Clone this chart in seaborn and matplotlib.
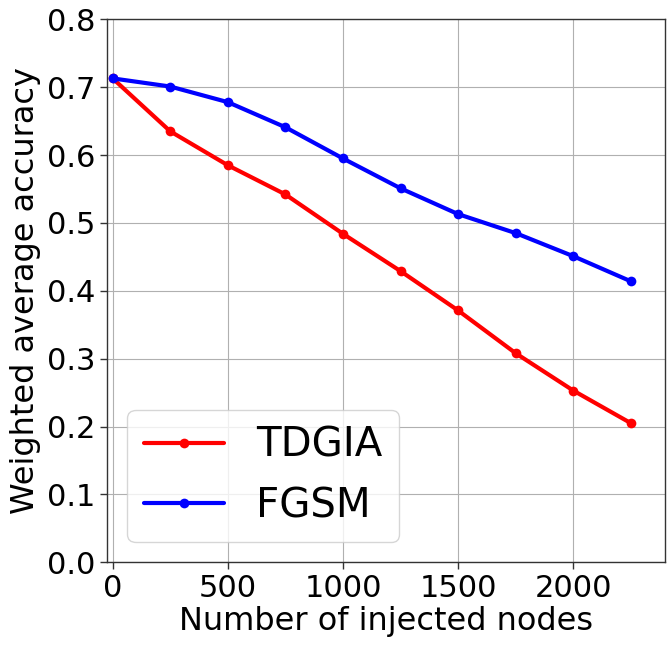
import matplotlib
matplotlib.use("Agg")
import matplotlib.pyplot as plt
import seaborn as sns
import pandas as pd
import numpy as np

nodes = [0, 250, 500, 750, 1000, 1250, 1500, 1750, 2000, 2250]
tdgia = [0.713, 0.635, 0.585, 0.542, 0.484, 0.429, 0.371, 0.308, 0.253, 0.205]
fgsm = [0.713, 0.701, 0.678, 0.641, 0.595, 0.551, 0.513, 0.485, 0.451, 0.414]
series_names = ["TDGIA", "FGSM"]
colors = ["red", "blue"]

df = pd.DataFrame({
    "nodes": nodes * 2,
    "acc": tdgia + fgsm,
    "method": [series_names[0]] * len(nodes) + [series_names[1]] * len(nodes),
})

sns.set_style("ticks")
plt.rcParams['font.family'] = ['DejaVu Sans']
plt.rcParams['text.color'] = 'black'
plt.rcParams['axes.labelcolor'] = 'black'
plt.rcParams['xtick.color'] = 'black'
plt.rcParams['ytick.color'] = 'black'

fig = plt.figure(figsize=(6.71, 6.49), dpi=100)
ax = fig.add_axes([0.160, 0.1336, 0.831, 0.8366])

sns.lineplot(data=df, x="nodes", y="acc", hue="method", hue_order=series_names,
             palette=colors, marker="o", markersize=7, markeredgewidth=0,
             linewidth=3, ax=ax)

ax.set_xlim(-23, 2398)
ax.set_ylim(0, 0.8)
ax.set_xticks([0, 500, 1000, 1500, 2000])
ax.set_yticks(np.arange(0, 0.81, 0.1))
ax.set_yticklabels([f"{v:.1f}" for v in np.arange(0, 0.81, 0.1)])
ax.tick_params(labelsize=22, length=5, width=1, color="#333333", labelcolor="black")
ax.grid(True, color="#b0b0b0", linewidth=0.8)
for s in ax.spines.values():
    s.set_color("#333333")
    s.set_linewidth(1)
ax.set_xlabel("Number of injected nodes", fontsize=23, labelpad=2, color="black")
ax.set_ylabel("Weighted average accuracy", fontsize=23, labelpad=4, color="black")
leg = ax.legend(loc="lower left", fontsize=29, title=None)
for t in leg.get_texts():
    t.set_color("black")

fig.savefig("out.png", dpi=100)
